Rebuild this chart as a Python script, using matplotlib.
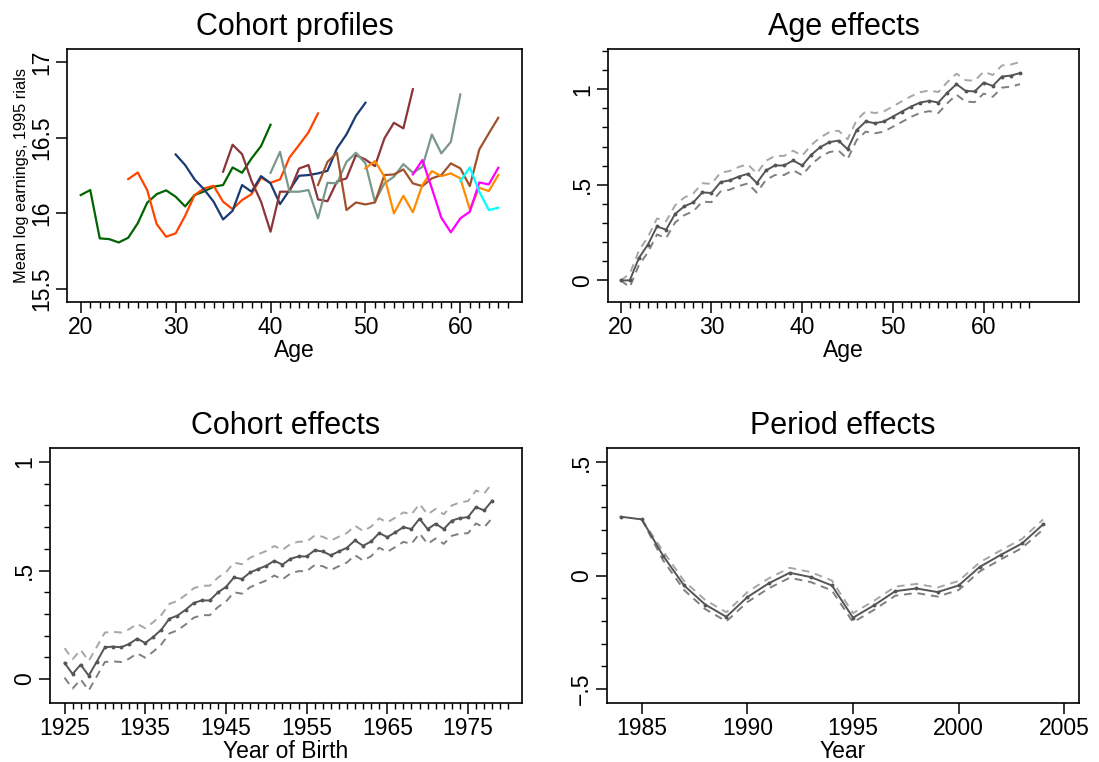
import matplotlib
matplotlib.use('Agg')
import matplotlib.pyplot as plt
import numpy as np

plt.rcParams['font.family'] = ['Liberation Sans', 'DejaVu Sans']

# --- Cohort profiles: mean log earnings by age, one line per birth cohort
cohort_colors = ['#006400', '#ff4500', '#1a3a73', '#8b3539', '#7a988a',
                 '#a0522d', '#ff8c00', '#ff00ff', '#00ffff']
cohort_start_age = [20, 25, 30, 35, 40, 45, 50, 55, 60]
cohort_earnings = [
    [16.121, 16.154, 15.835, 15.830, 15.808, 15.839, 15.934, 16.070, 16.127, 16.152, 16.110,
     16.046, 16.121, 16.145, 16.176, 16.187, 16.303, 16.268, 16.363, 16.444, 16.585],
    [16.226, 16.270, 16.154, 15.929, 15.846, 15.868, 15.984, 16.121, 16.165, 16.182, 16.077,
     16.028, 16.088, 16.127, 16.235, 16.202, 16.224, 16.369, 16.451, 16.535, 16.660],
    [16.389, 16.319, 16.224, 16.158, 16.077, 15.960, 16.017, 16.187, 16.143, 16.246, 16.198,
     16.061, 16.154, 16.248, 16.253, 16.264, 16.281, 16.429, 16.521, 16.644, 16.730],
    [16.275, 16.453, 16.391, 16.213, 16.077, 15.879, 16.143, 16.143, 16.296, 16.319, 16.092,
     16.080, 16.210, 16.231, 16.385, 16.355, 16.312, 16.495, 16.598, 16.561, 16.820],
    [16.268, 16.406, 16.143, 16.143, 16.154, 15.967, 16.202, 16.198, 16.340, 16.400, 16.330,
     16.077, 16.198, 16.242, 16.325, 16.268, 16.307, 16.521, 16.396, 16.472, 16.785],
    [16.187, 16.340, 16.400, 16.022, 16.072, 16.059, 16.072, 16.253, 16.257, 16.290, 16.198,
     16.180, 16.231, 16.253, 16.330, 16.297, 16.180, 16.422, 16.528, 16.631],
    [16.297, 16.345, 16.242, 16.000, 16.116, 16.007, 16.187, 16.279, 16.246, 16.264, 16.231,
     16.026, 16.169, 16.147, 16.253],
    [16.257, 16.352, 16.165, 15.971, 15.875, 15.967, 16.011, 16.204, 16.191, 16.301],
    [16.213, 16.303, 16.143, 16.022, 16.037],
]

# --- Age effects (ages 20-64)
age_effect = [0.0, 0.0, 0.117, 0.187, 0.282, 0.265, 0.348, 0.387, 0.408, 0.460, 0.457,
              0.514, 0.523, 0.543, 0.557, 0.509, 0.575, 0.601, 0.601, 0.627, 0.601,
              0.657, 0.697, 0.723, 0.731, 0.686, 0.786, 0.831, 0.822, 0.831, 0.857,
              0.883, 0.909, 0.930, 0.939, 0.930, 0.982, 1.026, 0.991, 0.988, 1.034,
              1.017, 1.066, 1.071, 1.084]
age_halfwidth = [0.0, 0.035, 0.038, 0.04, 0.042, 0.044, 0.045, 0.046, 0.047, 0.048, 0.048,
                 0.049, 0.049, 0.05, 0.05, 0.05, 0.05, 0.05, 0.05, 0.051, 0.051,
                 0.051, 0.051, 0.052, 0.052, 0.052, 0.052, 0.053, 0.053, 0.053, 0.053,
                 0.054, 0.054, 0.054, 0.054, 0.055, 0.055, 0.055, 0.056, 0.056, 0.057,
                 0.057, 0.058, 0.058, 0.058]

# --- Cohort effects (birth years 1925-1978)
cohort_effect = [0.074, 0.023, 0.066, 0.015, 0.080, 0.146, 0.149, 0.146, 0.161, 0.186,
                 0.166, 0.194, 0.227, 0.278, 0.292, 0.319, 0.350, 0.362, 0.362, 0.399,
                 0.424, 0.468, 0.461, 0.491, 0.507, 0.522, 0.545, 0.527, 0.554, 0.565,
                 0.565, 0.593, 0.588, 0.570, 0.588, 0.605, 0.639, 0.614, 0.634, 0.673,
                 0.654, 0.676, 0.700, 0.691, 0.739, 0.691, 0.716, 0.691, 0.730, 0.742,
                 0.746, 0.793, 0.777, 0.822]
cohort_halfwidth = [0.068, 0.068, 0.068, 0.068, 0.068, 0.068, 0.068, 0.068, 0.068, 0.068,
                    0.068, 0.068, 0.068, 0.068, 0.068, 0.068, 0.068, 0.068, 0.068, 0.068,
                    0.068, 0.068, 0.068, 0.068, 0.068, 0.068, 0.068, 0.068, 0.068, 0.068,
                    0.068, 0.068, 0.068, 0.068, 0.068, 0.068, 0.068, 0.068, 0.068, 0.068,
                    0.068, 0.068, 0.068, 0.068, 0.068, 0.068, 0.068, 0.068, 0.070, 0.072,
                    0.074, 0.076, 0.078, 0.080]

# --- Period effects (survey years 1984-2004)
period_effect = [0.259, 0.247, 0.088, -0.044, -0.128, -0.182, -0.095, -0.035, 0.012, -0.007,
                 -0.044, -0.186, -0.131, -0.069, -0.057, -0.073, -0.044, 0.038, 0.091,
                 0.141, 0.225]
period_halfwidth = [0.0, 0.0, 0.02, 0.02, 0.02, 0.02, 0.022, 0.022, 0.022, 0.022,
                    0.022, 0.02, 0.02, 0.02, 0.02, 0.02, 0.02, 0.02, 0.02, 0.02, 0.022]

ages = np.arange(20, 20 + len(age_effect))
births = np.arange(1925, 1925 + len(cohort_effect))
years = np.arange(1984, 1984 + len(period_effect))

W, H = 1099, 762
fig = plt.figure(figsize=(W / 100, H / 100), dpi=100)


def panel(l, r, t, b):
    return fig.add_axes([l / W, 1 - b / H, (r - l) / W, (b - t) / H])


def style(ax, title, xlabel):
    ax.set_title(title, fontsize=22, pad=10)
    ax.set_xlabel(xlabel, fontsize=16.5, labelpad=0)
    for s in ax.spines.values():
        s.set_linewidth(1.2)
    ax.tick_params(which='major', length=8, width=1.1, labelsize=16.5, pad=2)
    ax.tick_params(which='minor', length=4.5, width=1.0)
    for lab in ax.get_yticklabels():
        lab.set_rotation(90)
        lab.set_va('center')


def effect_plot(ax, x, y, hw):
    y = np.array(y)
    hw = np.array(hw)
    keep = (hw > 0) | np.roll(hw > 0, -1)
    ax.plot(x[keep], (y + hw)[keep], ls=(0, (4, 3)), color='#a6a6a6', lw=1.4)
    ax.plot(x[keep], (y - hw)[keep], ls=(0, (4, 3)), color='#7f7f7f', lw=1.4)
    ax.plot(x, y, color='#555555', lw=1.4, marker='o', ms=1.8)


# Panel 1: cohort profiles
ax1 = panel(67, 522, 49, 302)
for c, a0, vals in zip(cohort_colors, cohort_start_age, cohort_earnings):
    ax1.plot(np.arange(a0, a0 + len(vals)), vals, color=c, lw=1.6)
ax1.set_xlim(18.55, 66.5)
ax1.set_ylim(15.415, 17.085)
ax1.set_xticks([20, 30, 40, 50, 60])
ax1.set_xticks(np.arange(20, 66), minor=True)
ax1.set_yticks([15.5, 16, 16.5, 17])
ax1.set_yticklabels(['15.5', '16', '16.5', '17'])
ax1.set_ylabel('Mean log earnings, 1995 rials', fontsize=11.8, labelpad=1)
style(ax1, 'Cohort profiles', 'Age')

# Panel 2: age effects
ax2 = panel(608, 1079, 49, 302)
effect_plot(ax2, ages, age_effect, age_halfwidth)
ax2.set_xlim(18.6, 70.5)
ax2.set_ylim(-0.113, 1.21)
ax2.set_xticks([20, 30, 40, 50, 60])
ax2.set_xticks(np.arange(20, 66), minor=True)
ax2.set_yticks([0, 0.5, 1])
ax2.set_yticklabels(['0', '.5', '1'])
ax2.set_yticks(np.arange(0, 1.25, 0.1), minor=True)
style(ax2, 'Age effects', 'Age')

# Panel 3: cohort effects
ax3 = panel(50, 522, 448, 703)
effect_plot(ax3, births, cohort_effect, cohort_halfwidth)
ax3.set_xlim(1923.2, 1981.7)
ax3.set_ylim(-0.111, 1.065)
ax3.set_xticks([1925, 1935, 1945, 1955, 1965, 1975])
ax3.set_xticks(np.arange(1925, 1981), minor=True)
ax3.set_yticks([0, 0.5, 1])
ax3.set_yticklabels(['0', '.5', '1'])
ax3.set_yticks(np.arange(0, 1.05, 0.1), minor=True)
style(ax3, 'Cohort effects', 'Year of Birth')

# Panel 4: period effects
ax4 = panel(607, 1079, 448, 703)
effect_plot(ax4, years, period_effect, period_halfwidth)
ax4.set_xlim(1983.35, 2005.7)
ax4.set_ylim(-0.5 - 14 / 227, 0.5 + 14 / 227)
ax4.set_xticks([1985, 1990, 1995, 2000, 2005])
ax4.set_yticks([-0.5, 0, 0.5])
ax4.set_yticklabels(['\u2212.5', '0', '.5'])
ax4.set_yticks(np.arange(-0.5, 0.55, 0.1), minor=True)
style(ax4, 'Period effects', 'Year')

fig.savefig('out.png', dpi=100, facecolor='white')
